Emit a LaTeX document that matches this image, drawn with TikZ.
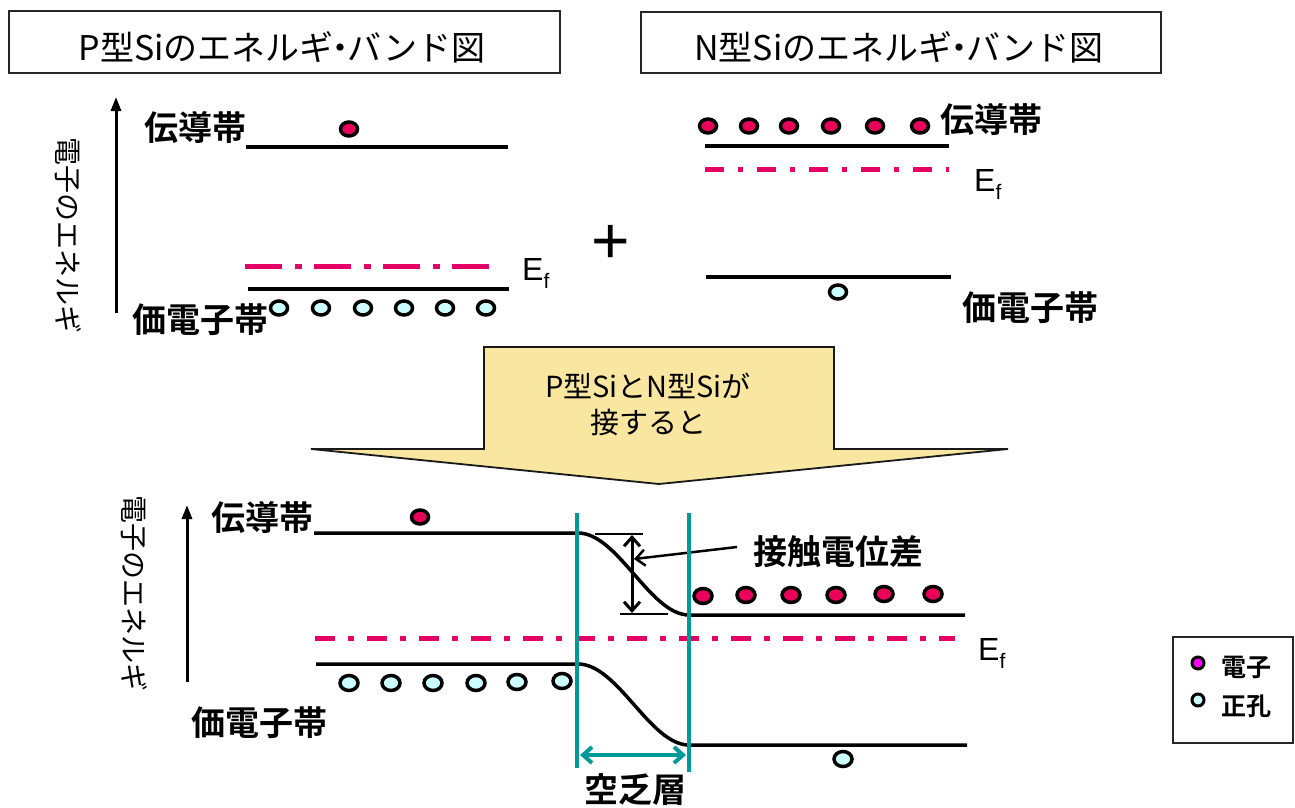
\documentclass[tikz,border=0pt]{standalone}
\usepackage{fontspec}
\setmainfont{Noto Sans CJK JP}[BoldFont={* Bold}]
\newfontfamily\latinfont{Liberation Sans}
\usetikzlibrary{arrows.meta,shapes.geometric}
\definecolor{elecred}{RGB}{232,0,90}
\definecolor{fermired}{RGB}{228,0,100}
\definecolor{holecyan}{RGB}{204,255,255}
\definecolor{teal2}{RGB}{0,153,153}
\definecolor{arrowyellow}{RGB}{249,230,160}
\definecolor{legmag}{RGB}{255,0,255}
\newcommand{\nakaguro}{\kern-0.3em・\kern-0.3em}
\begin{document}
\begin{tikzpicture}[x=1pt,y=-1pt,
  band/.style={line width=4pt},
  fermiA/.style={line width=5pt,draw=fermired,dash pattern=on 37pt off 13pt on 7pt off 12pt},
  fermiB/.style={line width=5pt,draw=fermired,dash pattern=on 19pt off 14pt on 5pt off 14pt},
  fermiC/.style={line width=5pt,draw=fermired,dash pattern=on 20pt off 13pt on 6pt off 13pt},
  elec/.style={ellipse,draw=black,line width=3.5pt,fill=elecred,minimum width=17pt,minimum height=14pt,inner sep=0pt},
  hole/.style={ellipse,draw=black,line width=3.5pt,fill=holecyan,minimum width=17pt,minimum height=14pt,inner sep=0pt},
  lbl/.style={font=\bfseries\fontsize{34}{36}\selectfont,inner sep=0pt},
  ttl/.style={font=\fontsize{34}{36}\selectfont,inner sep=0pt},
  axislbl/.style={font=\fontsize{28}{30}\selectfont,inner sep=0pt,rotate=-90},
  axisarr/.style={line width=3pt,-{Triangle[length=14pt,width=10pt]}},
  frame/.style={draw=black!85,line width=1.8pt},
  barb/.style={-{Straight Barb[length=9pt,width=16pt]}},
  barbs/.style={{Straight Barb[length=9pt,width=16pt]}-{Straight Barb[length=9pt,width=16pt]}},
  efE/.style={font=\latinfont\fontsize{32}{34}\selectfont,inner sep=0pt,anchor=base west}
]
\useasboundingbox (0,0) rectangle (1295,808);

% ---------- titles ----------
\draw[frame] (9,11) rectangle (560,73);
\node[ttl] (tP) at (282,47) {P型Siのエネルギ\nakaguro バンド図};
\draw[frame] (641,12) rectangle (1161,73);
\node[ttl] (tN) at (899,47) {N型Siのエネルギ\nakaguro バンド図};

% ---------- P-type (top left) ----------
\coordinate (ax1b) at (116,313);
\coordinate (ax1t) at (116,97);
\draw[axisarr] (ax1b) -- (ax1t);
\node[axislbl] (ax1l) at (68,235) {電子のエネルギ};
\node[lbl] (pCB) at (195,128) {伝導帯};
\node[lbl] (pVB) at (200,320) {価電子帯};
\coordinate (pc1) at (246,147); \coordinate (pc2) at (508,147);
\draw[band] (pc1) -- (pc2);
\coordinate (pf1) at (245,266); \coordinate (pf2) at (493,266);
\draw[fermiA] (pf1) -- (pf2);
\coordinate (pv1) at (248,289); \coordinate (pv2) at (509,289);
\draw[band] (pv1) -- (pv2);
\node[efE] (pEf) at (522,280) {E\raisebox{-8pt}{\fontsize{21}{21}\selectfont f}};
\node[elec] (pe1) at (349,129) {};
\foreach \x [count=\i] in {279,321,363,404,445,486}
  \node[hole] (ph\i) at (\x,308) {};

% plus
\node[font=\latinfont\fontsize{66}{66}\selectfont,inner sep=0pt] (plus) at (611,244) {+};

% ---------- N-type (top right) ----------
\node[lbl] (nCB) at (991,120) {伝導帯};
\node[lbl] (nVB) at (1030,308) {価電子帯};
\coordinate (nc1) at (705,146); \coordinate (nc2) at (949,146);
\draw[band] (nc1) -- (nc2);
\coordinate (nf1) at (705,169); \coordinate (nf2) at (949,169);
\draw[fermiB] (nf1) -- (nf2);
\coordinate (nv1) at (706,277); \coordinate (nv2) at (951,277);
\draw[band] (nv1) -- (nv2);
\node[efE] (nEf) at (974,191) {E\raisebox{-8pt}{\fontsize{21}{21}\selectfont f}};
\foreach \x [count=\i] in {708,749,789,831,875,920}
  \node[elec] (ne\i) at (\x,126) {};
\node[hole] (nh1) at (838,292) {};

% ---------- big arrow ----------
\draw[fill=arrowyellow,draw=black!90,line width=1.8pt]
  (484,347) -- (834,347) -- (834,449) -- (1008,449) -- (659,484)
  -- (311,449) -- (484,449) -- cycle;
\node[font=\fontsize{29}{36}\selectfont,align=center,inner sep=0pt] (join) at (648,404) {P型SiとN型Siが\\接すると};

% ---------- junction (bottom) ----------
\coordinate (ax2b) at (187,682);
\coordinate (ax2t) at (187,505);
\draw[axisarr] (ax2b) -- (ax2t);
\node[axislbl] (ax2l) at (134,593) {電子のエネルギ};
\node[lbl] (jCB) at (262,518) {伝導帯};
\node[lbl] (jVB) at (259,723) {価電子帯};

\coordinate (jf1) at (315,638); \coordinate (jf2) at (955,638);
\draw[fermiC] (jf1) -- (jf2);

\coordinate (jc1) at (314,533); \coordinate (jc2) at (578,533);
\coordinate (jc3) at (689,615); \coordinate (jc4) at (965,615);
\draw[band,line width=3.5pt] (jc1) -- (jc2) .. controls (618,533) and (650,615) .. (jc3) -- (jc4);
\coordinate (jv1) at (316,664); \coordinate (jv2) at (578,664);
\coordinate (jv3) at (689,745); \coordinate (jv4) at (967,745);
\draw[band,line width=3.5pt] (jv1) -- (jv2) .. controls (618,664) and (650,745) .. (jv3) -- (jv4);

\node[elec] (je0) at (420,517) {};
\foreach \x/\y [count=\i] in {703/596,746/595,791/595,836/595,884/594,933/594}
  \node[elec,minimum width=18pt,minimum height=15pt] (je\i) at (\x,\y) {};
\foreach \x/\y [count=\i] in {349/683,391/683,433/683,476/683,517/682,562/681}
  \node[hole,minimum width=18pt,minimum height=15pt] (jh\i) at (\x,\y) {};
\node[hole,minimum width=18pt,minimum height=15pt] (jh7) at (843,759) {};

\node[efE] (jEf) at (978,660) {E\raisebox{-8pt}{\fontsize{21}{21}\selectfont f}};

% contact potential
\coordinate (dt1) at (595,534); \coordinate (dt2) at (643,534);
\coordinate (db1) at (620,614); \coordinate (db2) at (668,614);
\draw[line width=1.5pt] (dt1) -- (dt2);
\draw[line width=1.5pt] (db1) -- (db2);
\coordinate (dvt) at (632,535); \coordinate (dvb) at (632,613);
\draw[barbs,line width=3pt] (dvt) -- (dvb);
\node[lbl] (contact) at (838,552) {接触電位差};
\coordinate (leadS) at (737,547);
\coordinate (leadE) at (634,559);
\draw[barb,line width=2.5pt] (leadS) -- (leadE);

% depletion layer
\coordinate (t1a) at (577,513); \coordinate (t1b) at (577,768);
\coordinate (t2a) at (689,513); \coordinate (t2b) at (689,772);
\draw[teal2,line width=4pt] (t1a) -- (t1b);
\draw[teal2,line width=4pt] (t2a) -- (t2b);
\coordinate (da1) at (580,755); \coordinate (da2) at (686,755);
\draw[teal2,barbs,line width=4pt] (da1) -- (da2);
\node[lbl] (depl) at (635,790) {空乏層};

% ---------- legend ----------
\draw[frame] (1173,637) rectangle (1293,743);
\node[circle,draw=black,line width=3pt,fill=legmag,minimum size=12pt,inner sep=0pt] (legE) at (1198,663) {};
\node[circle,draw=black,line width=3pt,fill=holecyan,minimum size=12pt,inner sep=0pt] (legH) at (1198,700) {};
\node[font=\bfseries\fontsize{25}{28}\selectfont,inner sep=0pt] (legEt) at (1246,667) {電子};
\node[font=\bfseries\fontsize{25}{28}\selectfont,inner sep=0pt] (legHt) at (1246,706) {正孔};
\end{tikzpicture}
\end{document}
